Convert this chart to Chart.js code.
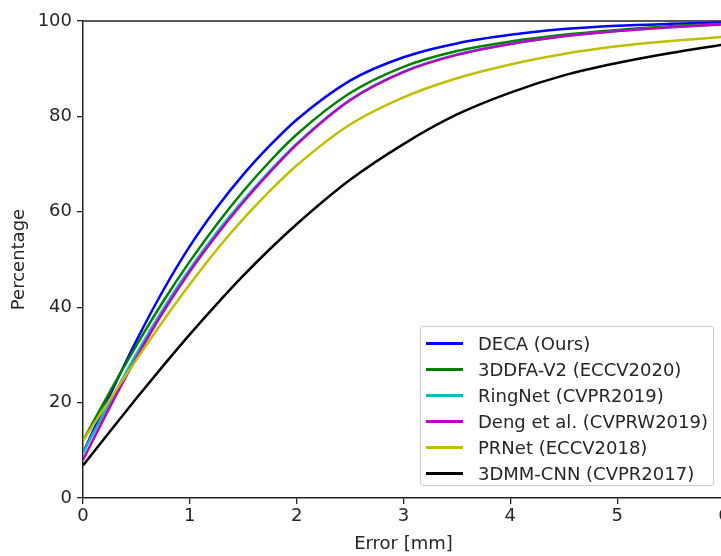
<!DOCTYPE html>
<html lang="en">
<head>
  <meta charset="UTF-8" />
  <title>Error curves</title>
  <script src="https://cdn.jsdelivr.net/npm/chart.js"></script>
  <style>
    body {
      margin: 0;
      background: #ffffff;
      font-family: "DejaVu Sans", sans-serif;
    }

    .wrap {
      position: relative;
      width: 721px;
      height: 556px;
      overflow: hidden;
    }

    .legend-box {
      position: absolute;
      left: 420px;
      top: 326px;
      width: 294px;
      height: 160px;
      padding-top: 3px;
      box-sizing: border-box;
      border: 1px solid #cccccc;
      border-radius: 3px;
      background: rgba(255, 255, 255, 0.85);
      font-size: 18px;
      color: #262626;
    }

    .legend-row {
      display: flex;
      align-items: center;
      height: 26px;
      white-space: nowrap;
    }

    .legend-line {
      width: 37px;
      height: 3px;
      margin-left: 5px;
      margin-right: 15px;
    }
  </style>
</head>
<body>

<div class="wrap">
  <canvas id="errChart" width="760" height="556"></canvas>
  <div class="legend-box" id="legendBox"></div>
</div>

<script>
  const errorMm = [0, 0.25, 0.5, 0.75, 1, 1.25, 1.5, 1.75, 2, 2.5, 3, 3.5, 4, 4.5, 5, 5.5, 6];

  const decaPct     = [9.5, 21.5, 33, 43.5, 52.8, 60.8, 67.8, 73.9, 79.3, 87.5, 92.4, 95.3, 97.1, 98.3, 99, 99.4, 99.7];
  const ddfaPct     = [12, 22.2, 32, 41.2, 49.6, 57.3, 64.3, 70.6, 76.2, 84.9, 90.4, 93.7, 95.7, 97.1, 98.1, 98.9, 99.4];
  const ringnetPct  = [9.5, 20, 30.2, 39.6, 48, 55.6, 62.4, 68.6, 74.3, 83.5, 89.4, 93, 95.2, 96.8, 97.9, 98.7, 99.3];
  const dengPct     = [8, 19, 29.4, 39, 47.5, 55.1, 62, 68.3, 74.1, 83.4, 89.3, 92.9, 95.2, 96.8, 97.9, 98.7, 99.3];
  const prnetPct    = [12, 20.6, 29, 37.1, 44.8, 52, 58.5, 64.4, 69.7, 78.3, 84, 88, 90.9, 93.1, 94.7, 95.8, 96.7];
  const cnn3dmmPct  = [6.8, 13.9, 20.9, 27.7, 34.3, 40.6, 46.6, 52.2, 57.4, 66.7, 74.2, 80.4, 85, 88.6, 91.2, 93.3, 95.1];

  const methodNames = [
    'DECA (Ours)',
    '3DDFA-V2 (ECCV2020)',
    'RingNet (CVPR2019)',
    'Deng et al. (CVPRW2019)',
    'PRNet (ECCV2018)',
    '3DMM-CNN (CVPR2017)'
  ];
  const methodValues = [decaPct, ddfaPct, ringnetPct, dengPct, prnetPct, cnn3dmmPct];
  const methodColors = ['#0000ff', '#008000', '#00bfbf', '#bf00bf', '#bfbf00', '#000000'];

  const xTicks = [0, 1, 2, 3, 4, 5, 6];
  const yTicks = [0, 20, 40, 60, 80, 100];

  const axisColor = '#222222';
  const textColor = '#262626';

  // matplotlib draws later lines on top, so reverse chart.js order
  const datasets = methodNames.map((name, i) => ({
    label: name,
    data: errorMm.map((x, j) => ({ x: x, y: methodValues[i][j] })),
    borderColor: methodColors[i],
    backgroundColor: methodColors[i],
    borderWidth: 2.5,
    pointRadius: 0,
    cubicInterpolationMode: 'monotone',
    fill: false,
    order: methodNames.length - i
  }));

  // top + right spines
  const frame = {
    id: 'frame',
    afterDraw(chart) {
      const a = chart.chartArea;
      const ctx = chart.ctx;
      ctx.save();
      ctx.strokeStyle = axisColor;
      ctx.lineWidth = 1.5;
      ctx.beginPath();
      ctx.moveTo(a.left, a.top);
      ctx.lineTo(a.right, a.top);
      ctx.lineTo(a.right, a.bottom);
      ctx.stroke();
      ctx.restore();
    }
  };

  const tickFont = { family: 'DejaVu Sans', size: 18 };

  new Chart(document.getElementById('errChart').getContext('2d'), {
    type: 'line',
    data: { datasets: datasets },
    options: {
      responsive: false,
      animation: false,
      layout: { padding: { top: 21, right: 36, left: 0, bottom: 0 } },
      plugins: {
        legend: { display: false },
        tooltip: { enabled: false }
      },
      scales: {
        x: {
          type: 'linear',
          min: 0,
          max: 6,
          afterFit: (s) => { s.height = 58; },
          afterBuildTicks: (s) => { s.ticks = xTicks.map(v => ({ value: v })); },
          ticks: { font: tickFont, color: textColor, padding: 2, maxRotation: 0 },
          grid: { display: true, drawOnChartArea: false, drawTicks: true, tickLength: 6, color: axisColor, lineWidth: 1.3 },
          border: { display: true, color: axisColor, width: 1.5 },
          title: { display: true, text: 'Error [mm]', font: tickFont, color: textColor, padding: { top: 0, bottom: 1 } }
        },
        y: {
          min: 0,
          max: 100,
          afterFit: (s) => { s.width = 83; },
          afterBuildTicks: (s) => { s.ticks = yTicks.map(v => ({ value: v })); },
          ticks: { font: tickFont, color: textColor, padding: 5 },
          grid: { display: true, drawOnChartArea: false, drawTicks: true, tickLength: 6, color: axisColor, lineWidth: 1.3 },
          border: { display: true, color: axisColor, width: 1.5 },
          title: { display: true, text: 'Percentage', font: tickFont, color: textColor, padding: { top: 9, bottom: 0 } }
        }
      }
    },
    plugins: [frame]
  });

  // legend in lower right, like the original figure
  const legendBox = document.getElementById('legendBox');
  methodNames.forEach((name, i) => {
    const row = document.createElement('div');
    row.className = 'legend-row';
    const line = document.createElement('div');
    line.className = 'legend-line';
    line.style.background = methodColors[i];
    const label = document.createElement('span');
    label.textContent = name;
    row.appendChild(line);
    row.appendChild(label);
    legendBox.appendChild(row);
  });
</script>

</body>
</html>
